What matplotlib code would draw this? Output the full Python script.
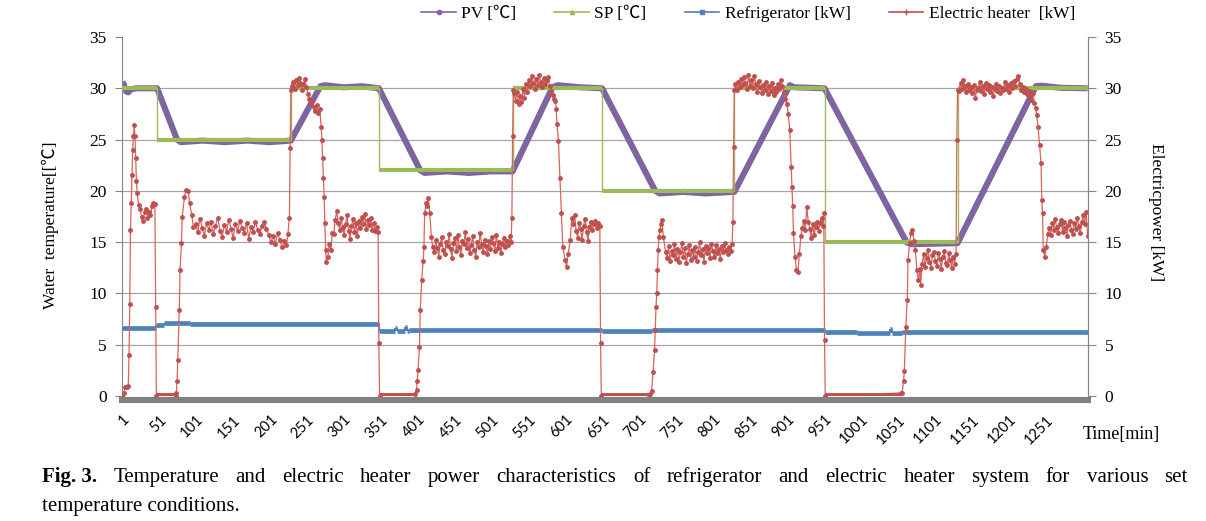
import matplotlib.pyplot as plt
from matplotlib.lines import Line2D

# ---- data (time in minutes) ----
# PV water temperature, breakpoints
pv_t = [1, 3, 6, 9, 13, 20, 48, 75, 80, 110, 140, 170, 200, 229,
        269, 275, 300, 325, 348, 404, 410, 440, 470, 500, 529,
        583, 590, 620, 650, 722, 728, 760, 790, 829,
        904, 910, 951, 1062, 1068, 1100, 1131, 1237, 1245, 1270, 1307]
pv_v = [30.6, 30.4, 29.7, 29.6, 29.9, 30.0, 30.0, 25.0, 24.75, 24.9, 24.75, 24.9, 24.75, 24.9,
        30.2, 30.3, 30.1, 30.2, 30.0, 22.0, 21.75, 21.9, 21.75, 21.9, 21.9,
        30.1, 30.3, 30.1, 30.0, 20.0, 19.75, 19.9, 19.75, 19.9,
        30.3, 30.1, 30.0, 15.0, 14.8, 14.85, 14.9, 30.2, 30.25, 30.05, 30.0]

# SP set temperature, held from sp_t[i] to sp_t[i+1]
sp_t = [1, 48, 229, 348, 529, 650, 829, 951, 1131, 1307]
sp_v = [30, 25, 30, 22, 30, 20, 30, 15, 30]

# refrigerator power, held from ref_t[i] to ref_t[i+1]
ref_t = [1, 47, 58, 92, 348, 370, 372, 384, 386, 389, 650, 717, 951, 995, 1040, 1042, 1056, 1307]
ref_v = [6.6, 6.9, 7.15, 7.05, 6.3, 6.6, 6.3, 6.75, 6.3, 6.45, 6.35, 6.42, 6.2, 6.1, 6.5, 6.1, 6.22]

# heater switched off (0 kW) between these minutes
off_start = [47, 349, 649, 952]
off_end = [73, 397, 713, 1054]

# electric heater power, sampled readings
heater_1 = [(1, 0.0), (3, 0.3), (5, 0.9), (7, 0.9), (9, 1.0), (10, 4.0), (11, 9.0), (12, 16.2),
            (13, 18.8), (14, 21.5), (15, 24.0), (16, 25.3), (17, 26.4), (18, 25.3), (19, 23.2),
            (20, 21.0), (21, 19.8), (23, 18.6), (25, 18.2), (27, 17.5), (29, 17.1), (31, 17.9),
            (33, 18.2), (35, 17.4), (37, 17.9), (39, 17.6), (41, 18.5), (43, 18.8), (45, 18.7),
            (46, 8.7), (47, 0.0)]
heater_2 = [(73, 0.0), (74, 0.3), (75, 1.5), (76, 3.5), (78, 8.4), (79, 12.3), (81, 14.9),
            (82, 17.5), (85, 19.4), (87, 20.1), (90, 20.0), (92, 18.8), (95, 17.6), (97, 16.5),
            (100, 16.8), (103, 16.0), (106, 17.3), (109, 16.4), (112, 15.6), (115, 16.9),
            (118, 16.2), (121, 17.0), (124, 15.8), (127, 16.6), (130, 17.4), (133, 16.1),
            (136, 15.5), (139, 16.7), (142, 16.0), (145, 17.2), (148, 16.3), (151, 15.4),
            (154, 16.8), (157, 16.1), (160, 17.1), (163, 16.4), (166, 15.9), (169, 16.9),
            (172, 15.3), (175, 16.5), (178, 16.0), (181, 17.0), (184, 16.2), (187, 15.8),
            (190, 16.6), (193, 17.0), (196, 16.3), (199, 15.7), (202, 15.0), (205, 15.6),
            (208, 14.8), (211, 15.9), (214, 15.2), (217, 14.5), (220, 15.1), (223, 14.7),
            (225, 15.8), (227, 17.4), (228, 24.2), (229, 29.8)]
heater_3 = [(230, 30.2), (232, 30.6), (234, 29.9), (236, 30.8), (238, 30.3), (240, 31.0),
            (242, 30.5), (244, 29.8), (246, 30.4), (248, 30.9), (250, 30.1), (252, 29.4),
            (254, 29.0), (256, 28.6), (258, 28.9), (260, 28.2), (262, 27.8), (264, 28.4),
            (266, 27.6), (268, 28.0), (270, 26.2), (271, 25.0), (272, 23.2), (273, 21.3),
            (274, 19.4), (275, 16.9), (276, 14.2), (277, 13.1), (279, 13.6), (281, 14.8),
            (283, 14.2), (285, 15.9), (287, 15.8), (289, 17.2), (291, 18.0), (293, 16.9),
            (295, 16.2), (297, 17.4), (299, 16.5), (301, 15.7), (303, 16.8), (305, 17.6),
            (307, 16.1), (309, 15.3), (311, 16.6), (313, 17.3), (315, 16.0), (317, 16.9),
            (319, 15.6), (321, 17.1), (323, 16.4), (325, 17.5), (327, 16.8), (329, 17.7),
            (331, 16.3), (333, 17.2), (335, 16.7), (337, 17.4), (339, 16.2), (341, 16.9),
            (343, 16.1), (345, 16.5), (347, 16.0), (348, 5.2), (349, 0.0)]
heater_4 = [(397, 0.2), (399, 0.6), (400, 1.5), (401, 2.5), (403, 4.8), (404, 8.4), (406, 11.3),
            (408, 13.2), (409, 14.5), (410, 17.8), (412, 18.8), (413, 18.5), (415, 19.3),
            (417, 17.8), (419, 15.5), (421, 14.5), (423, 14.0), (425, 15.2), (427, 14.4),
            (429, 13.6), (431, 14.8), (433, 15.5), (435, 14.2), (437, 13.8), (439, 15.0),
            (441, 14.6), (443, 15.8), (445, 14.3), (447, 13.5), (449, 14.9), (451, 15.4),
            (453, 14.1), (455, 15.7), (457, 14.5), (459, 13.7), (461, 15.1), (463, 14.8),
            (465, 16.0), (467, 14.4), (469, 15.3), (471, 13.9), (473, 14.7), (475, 15.6),
            (477, 14.2), (479, 13.6), (481, 15.0), (483, 14.5), (485, 15.9), (487, 14.8),
            (489, 14.0), (491, 15.2), (493, 14.6), (495, 13.8), (497, 15.1), (499, 14.3),
            (501, 15.5), (503, 14.9), (505, 14.1), (507, 15.7), (509, 14.4), (511, 15.0),
            (513, 13.9), (515, 14.8), (517, 15.4), (519, 14.5), (521, 15.1), (523, 14.7),
            (525, 15.6), (527, 15.0), (528, 17.4), (529, 25.3), (530, 29.8)]
heater_5 = [(531, 29.5), (533, 28.8), (535, 29.6), (537, 28.5), (539, 29.2), (541, 28.7),
            (543, 29.9), (545, 29.1), (547, 30.4), (549, 29.6), (551, 30.8), (553, 30.2),
            (555, 31.2), (557, 30.5), (559, 29.9), (561, 30.9), (563, 30.3), (565, 31.3),
            (567, 30.6), (569, 30.1), (571, 31.0), (573, 30.4), (575, 30.8), (577, 31.1),
            (579, 30.2), (581, 29.7), (583, 29.3), (585, 29.0), (587, 28.8), (588, 28.0),
            (589, 26.5), (591, 24.9), (593, 21.3), (595, 17.8), (597, 14.5), (600, 13.3),
            (602, 12.6), (604, 13.8), (607, 15.2), (609, 17.4), (611, 16.8), (613, 17.6),
            (615, 16.1), (617, 15.4), (619, 16.9), (621, 16.3), (623, 15.2), (625, 16.6),
            (627, 17.3), (629, 16.0), (631, 15.1), (633, 16.5), (635, 17.0), (637, 16.2),
            (639, 16.8), (641, 17.1), (643, 16.4), (645, 16.9), (647, 16.6), (648, 5.2),
            (649, 0.0)]
heater_6 = [(713, 0.1), (715, 0.2), (717, 0.5), (719, 2.3), (721, 4.5), (722, 6.4), (723, 8.7),
            (724, 10.0), (725, 12.3), (726, 14.2), (727, 15.5), (728, 16.2), (730, 16.8),
            (731, 17.2), (733, 15.5), (736, 14.0), (738, 13.5), (740, 14.6), (742, 13.2),
            (744, 14.1), (746, 13.7), (748, 14.8), (750, 13.4), (752, 14.3), (754, 13.1),
            (756, 14.0), (758, 14.9), (760, 13.6), (762, 14.4), (764, 13.0), (766, 13.8),
            (768, 14.7), (770, 13.3), (772, 14.2), (774, 13.6), (776, 14.5), (778, 13.2),
            (780, 14.0), (782, 15.0), (784, 13.7), (786, 14.3), (788, 13.1), (790, 14.6),
            (792, 13.9), (794, 14.4), (796, 13.5), (798, 14.8), (800, 14.1), (802, 13.6),
            (804, 14.7), (806, 13.9), (808, 14.3), (810, 13.4), (812, 14.6), (814, 14.0),
            (816, 14.9), (818, 14.2), (820, 13.8), (822, 14.5), (824, 14.1), (826, 14.8),
            (827, 17.0), (828, 24.3), (829, 29.8)]
heater_7 = [(830, 30.4), (832, 29.8), (834, 30.6), (836, 30.1), (838, 30.9), (840, 30.3),
            (842, 31.1), (844, 30.5), (846, 29.9), (848, 31.3), (850, 30.2), (852, 30.8),
            (854, 30.0), (856, 31.2), (858, 30.4), (860, 29.6), (862, 30.7), (864, 30.1),
            (866, 29.5), (868, 30.3), (870, 29.8), (872, 30.6), (874, 29.4), (876, 30.2),
            (878, 29.7), (880, 30.5), (882, 29.3), (884, 30.0), (886, 29.6), (888, 30.4),
            (890, 29.9), (892, 30.8), (894, 30.2), (896, 29.6), (898, 29.0), (900, 28.5),
            (902, 27.5), (904, 25.9), (906, 22.3), (907, 20.4), (908, 18.5), (909, 15.9),
            (911, 13.6), (913, 12.3), (915, 12.1), (917, 13.8), (919, 15.6), (921, 16.4),
            (923, 17.1), (925, 16.2), (927, 18.4), (929, 17.0), (931, 16.3), (933, 15.4),
            (935, 16.8), (937, 15.7), (939, 16.5), (941, 17.0), (943, 16.1), (945, 16.9),
            (947, 17.4), (949, 16.6), (950, 17.8), (951, 5.5), (952, 0.0)]
heater_8 = [(1054, 0.3), (1056, 0.3), (1058, 1.5), (1059, 2.4), (1061, 6.7), (1063, 9.4),
            (1064, 13.3), (1066, 14.9), (1068, 15.9), (1070, 16.2), (1072, 15.1), (1074, 14.2),
            (1076, 12.3), (1078, 11.3), (1080, 12.4), (1081, 10.8), (1083, 12.9), (1085, 13.8),
            (1087, 12.6), (1089, 13.5), (1091, 14.2), (1093, 13.1), (1095, 12.5), (1097, 13.7),
            (1099, 14.0), (1101, 13.2), (1103, 12.7), (1105, 13.9), (1107, 13.4), (1109, 12.4),
            (1111, 13.6), (1113, 14.1), (1115, 13.0), (1117, 12.8), (1119, 13.9), (1121, 13.3),
            (1123, 12.5), (1125, 13.6), (1127, 12.9), (1129, 13.8), (1130, 25.0), (1131, 29.8)]
heater_9 = [(1133, 29.7), (1135, 30.5), (1137, 29.9), (1139, 30.8), (1141, 30.2), (1143, 29.6),
            (1145, 30.4), (1147, 29.8), (1149, 30.1), (1151, 29.5), (1153, 30.3), (1155, 29.1),
            (1157, 29.8), (1159, 30.0), (1161, 30.6), (1163, 29.7), (1165, 30.2), (1167, 29.4),
            (1169, 30.5), (1171, 29.9), (1173, 30.3), (1175, 29.6), (1177, 30.1), (1179, 29.2),
            (1181, 29.9), (1183, 30.4), (1185, 29.7), (1187, 30.2), (1189, 29.5), (1191, 30.0),
            (1193, 29.8), (1195, 30.6), (1197, 29.9), (1199, 30.3), (1201, 29.6), (1203, 30.5),
            (1205, 30.0), (1207, 30.7), (1209, 30.2), (1211, 30.9), (1213, 31.2), (1215, 30.4),
            (1217, 29.8), (1219, 30.1), (1221, 29.6), (1223, 29.9), (1225, 29.4), (1227, 29.7),
            (1229, 29.2), (1231, 28.9), (1233, 29.5), (1235, 28.6), (1237, 28.1), (1238, 27.4),
            (1240, 26.2), (1242, 24.5), (1244, 22.7), (1245, 19.1), (1246, 17.8), (1247, 14.2),
            (1249, 13.6), (1251, 14.5), (1253, 15.8), (1255, 16.4), (1257, 15.7), (1259, 16.9),
            (1261, 16.2), (1263, 17.3), (1265, 16.5), (1267, 15.9), (1269, 16.8), (1271, 17.2),
            (1273, 16.0), (1275, 17.0), (1277, 16.4), (1279, 15.6), (1281, 16.7), (1283, 17.1),
            (1285, 16.2), (1287, 15.8), (1289, 16.9), (1291, 16.3), (1293, 17.4), (1295, 16.6),
            (1297, 15.9), (1299, 17.0), (1301, 17.6), (1303, 16.8), (1305, 17.9), (1307, 15.6)]
heater = (heater_1 + heater_2 + heater_3 + heater_4 + heater_5 + heater_6
          + heater_7 + heater_8 + heater_9)

xtick_vals = list(range(1, 1252, 50))
caption_1 = ("Temperature and electric heater power characteristics of refrigerator "
             "and electric heater system for various set")
caption_2 = "temperature conditions."

PURPLE = '#8064A2'
GREEN = '#9BBB59'
BLUE = '#4F81BD'
RED = '#C0504D'
SERIF = ['Liberation Serif', 'Noto Sans CJK KR']

W, H = 1206, 521
fig = plt.figure(figsize=(W / 100, H / 100), dpi=100)
ax = fig.add_axes([122 / W, 1 - 396 / H, (1088 - 122) / W, (396 - 37) / H])
ax.set_xlim(0.5, 1307.5)
ax.set_ylim(0, 35)

for g in range(5, 35, 5):
    ax.axhline(g, color='#A6A6A6', lw=0.9, zorder=0)

# PV
ax.plot(pv_t, pv_v, color=PURPLE, lw=4.4, solid_capstyle='butt', zorder=2)
# SP: thin step line plus thick holds
ax.step(sp_t, sp_v + [sp_v[-1]], where='post', color=GREEN, lw=1.0, zorder=3)
ax.hlines(sp_v, sp_t[:-1], sp_t[1:], color=GREEN, lw=3.0, zorder=3)
# refrigerator
ax.hlines(ref_v, ref_t[:-1], ref_t[1:], color=BLUE, lw=3.4, zorder=4)
ax.vlines(ref_t[1:-1], ref_v[:-1], ref_v[1:], color=BLUE, lw=1.5, zorder=4)
# heater
ht = [p[0] for p in heater]
hv = [p[1] for p in heater]
ax.plot(ht, hv, color='#D66461', lw=0.9, zorder=5)
ax.plot(ht, hv, ls='none', marker='o', ms=2.5, color=RED, zorder=6)
ax.hlines([0.1] * len(off_start), off_start, off_end, color=RED, lw=2.8, zorder=5)

ax.spines['top'].set_visible(False)
ax.spines['left'].set_color('#868686')
ax.spines['right'].set_color('#868686')
ax.spines['bottom'].set_color('#808080')
ax.spines['bottom'].set_linewidth(4.4)
ax.spines['bottom'].set_position(('outward', 3))

ax.set_yticks(range(0, 36, 5))
ax.tick_params(axis='y', direction='out', length=5, color='#868686', pad=6,
               labelsize=12.5)
for lab in ax.get_yticklabels():
    lab.set_family(SERIF)
ax.set_xticks(xtick_vals)
ax.set_xticklabels([str(v) for v in xtick_vals], rotation=45, ha='right',
                   va='top', rotation_mode='anchor', family='Lato', fontsize=10.5)
ax.tick_params(axis='x', length=0, pad=9)

ax2 = ax.twinx()
ax2.set_ylim(0, 35)
ax2.set_yticks(range(0, 36, 5))
ax2.tick_params(axis='y', direction='out', length=6, color='#868686', pad=6,
                labelsize=12.5)
for lab in ax2.get_yticklabels():
    lab.set_family(SERIF)
for s in ['top', 'left', 'bottom']:
    ax2.spines[s].set_visible(False)
ax2.spines['right'].set_color('#868686')

fig.text(50 / W, 1 - 225 / H, 'Water  temperature[[℃]', rotation=90,
         ha='center', va='center', family=SERIF, fontsize=12.5)
fig.text(1156 / W, 1 - 212 / H, 'Electricpower [kW]', rotation=270,
         ha='center', va='center', family=SERIF, fontsize=12.5)
fig.text(1083 / W, 1 - 435 / H, 'Time[min]', ha='left', va='center',
         family=SERIF, fontsize=13)

handles = [Line2D([], [], color=PURPLE, lw=1.2, marker='o', ms=3),
           Line2D([], [], color=GREEN, lw=1.2, marker='^', ms=3),
           Line2D([], [], color=BLUE, lw=1.2, marker='s', ms=2.5),
           Line2D([], [], color=RED, lw=1.2, marker='+', ms=4)]
labels = ['PV [℃]', 'SP [℃]', 'Refrigerator [kW]', 'Electric heater  [kW]']
fig.legend(handles, labels, loc='center', bbox_to_anchor=(748 / W, 1 - 14 / H),
           ncol=4, frameon=False, handlelength=2.0, handletextpad=0.3,
           columnspacing=2.2, prop={'family': SERIF, 'size': 12.5})

# justified caption, first line
fig.canvas.draw()
r = fig.canvas.get_renderer()
words = [('Fig. 3.', 'bold')] + [(w, 'normal') for w in caption_1.split()]
texts = [fig.text(0, 0, w, weight=wt, family=SERIF, fontsize=15, va='baseline')
         for w, wt in words]
widths = [t.get_window_extent(r).width for t in texts]
x0, x1 = 42, 1188
gap = (x1 - x0 - sum(widths)) / (len(texts) - 1)
x = x0
for t, w in zip(texts, widths):
    t.set_position((x / W, 1 - 482 / H))
    x += w + gap
fig.text(42 / W, 1 - 511 / H, caption_2, family=SERIF, fontsize=15, va='baseline')

fig.savefig('out.png', dpi=100)
